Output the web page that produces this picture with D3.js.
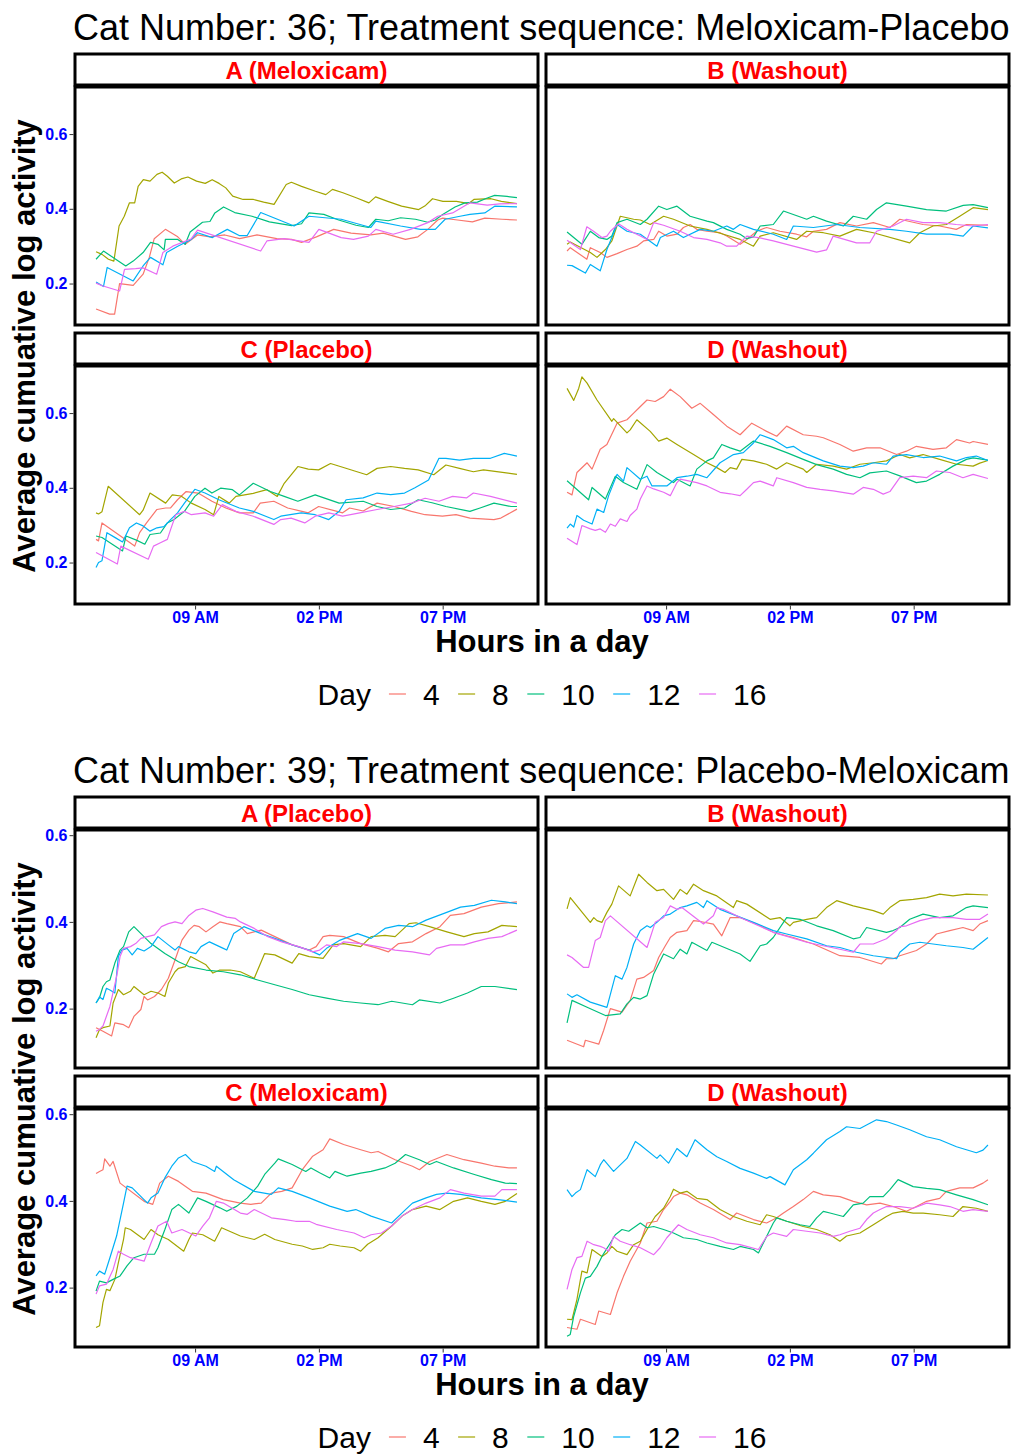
<!DOCTYPE html>
<html>
<head>
<meta charset="utf-8">
<script src="https://cdn.jsdelivr.net/npm/d3@7"></script>
<style>
  body { margin: 0; background: #fff; }
  svg { display: block; font-family: 'Liberation Sans', Arial, Helvetica, sans-serif; }
</style>
</head>
<body>
<svg id="chart" width="1013" height="1454"></svg>
<script>
// ---- categories / labels ----
const dayLevels = ['4', '8', '10', '12', '16'];
const dayColors = ['#F8766D', '#A3A500', '#00BF7D', '#00B0F6', '#E76BF3'];
const hourRange = [5, 22];
const tickHours = [9, 14, 19];
const tickLabels = ['09 AM', '02 PM', '07 PM'];
const yTickValues = [0.2, 0.4, 0.6];

const cat36Title = 'Cat Number: 36; Treatment sequence: Meloxicam-Placebo';
const cat36Panels = ['A (Meloxicam)', 'B (Washout)', 'C (Placebo)', 'D (Washout)'];
const cat39Title = 'Cat Number: 39; Treatment sequence: Placebo-Meloxicam';
const cat39Panels = ['A (Placebo)', 'B (Washout)', 'C (Meloxicam)', 'D (Washout)'];

// ---- series: [hour of day, average cumulative log activity] ----
// cat 36, period A
const c36A4 = [[5.0,0.132],[5.55,0.118],[5.75,0.118],[5.95,0.2],[6.5,0.195],[6.9,0.225],[7.15,0.27],[7.35,0.32],[7.8,0.345],[8.3,0.325],[8.6,0.305],[9.1,0.33],[9.6,0.325],[10.2,0.33],[10.8,0.32],[11.5,0.33],[12.3,0.32],[12.9,0.318],[13.3,0.31],[13.9,0.325],[14.6,0.345],[15.3,0.335],[16.1,0.33],[16.6,0.335],[17.5,0.318],[18.0,0.325],[18.4,0.345],[18.8,0.37],[19.0,0.375],[19.6,0.37],[20.2,0.365],[20.7,0.375],[21.4,0.372],[22.0,0.37]];
const c36A8 = [[5.0,0.285],[5.24,0.278],[5.5,0.265],[5.72,0.26],[5.93,0.354],[6.14,0.38],[6.35,0.416],[6.56,0.416],[6.7,0.46],[6.91,0.478],[7.18,0.474],[7.46,0.492],[7.67,0.498],[7.88,0.487],[8.16,0.469],[8.44,0.48],[8.71,0.485],[9.06,0.474],[9.41,0.468],[9.69,0.478],[9.97,0.468],[10.24,0.456],[10.52,0.434],[10.94,0.425],[11.36,0.425],[11.77,0.418],[12.19,0.412],[12.68,0.465],[12.89,0.471],[13.3,0.46],[13.86,0.447],[14.28,0.438],[14.55,0.452],[14.97,0.443],[15.53,0.429],[16.02,0.416],[16.29,0.432],[16.78,0.42],[17.34,0.407],[18.03,0.398],[18.31,0.409],[18.59,0.427],[19.01,0.42],[19.56,0.42],[20.05,0.414],[20.26,0.425],[20.95,0.427],[21.37,0.42],[22.0,0.414]];
const c36A10 = [[5.0,0.265],[5.3,0.287],[6.2,0.247],[6.5,0.26],[6.9,0.283],[7.2,0.31],[7.5,0.305],[7.75,0.29],[7.8,0.318],[8.3,0.318],[8.6,0.305],[8.8,0.338],[9.3,0.364],[9.6,0.366],[9.8,0.389],[10.15,0.405],[10.6,0.39],[11.3,0.38],[12.0,0.365],[12.9,0.355],[13.3,0.36],[13.6,0.389],[14.2,0.385],[14.8,0.37],[15.5,0.356],[16.0,0.35],[16.3,0.372],[16.8,0.368],[17.3,0.376],[17.9,0.372],[18.4,0.364],[18.7,0.37],[19.0,0.385],[19.5,0.405],[19.9,0.416],[20.4,0.418],[20.8,0.429],[21.1,0.436],[21.6,0.433],[22.0,0.43]];
const c36A12 = [[5.0,0.204],[5.3,0.192],[5.45,0.243],[6.5,0.207],[6.9,0.247],[7.2,0.27],[7.7,0.25],[7.85,0.283],[8.3,0.3],[8.85,0.318],[9.1,0.336],[9.7,0.323],[10.3,0.345],[10.8,0.328],[11.1,0.328],[11.65,0.39],[13.0,0.354],[13.6,0.38],[14.9,0.372],[16.1,0.35],[16.3,0.367],[17.3,0.354],[18.1,0.345],[18.7,0.345],[19.1,0.372],[19.7,0.38],[20.1,0.385],[20.7,0.389],[21.1,0.407],[22.0,0.405]];
const c36A16 = [[5.0,0.201],[5.25,0.194],[5.95,0.18],[6.15,0.238],[6.6,0.24],[6.9,0.242],[7.45,0.225],[7.7,0.283],[8.1,0.3],[8.85,0.32],[9.1,0.343],[11.65,0.287],[11.9,0.314],[12.6,0.32],[13.6,0.31],[14.0,0.345],[14.9,0.323],[15.4,0.318],[16.0,0.327],[16.3,0.345],[17.0,0.332],[17.7,0.345],[18.4,0.363],[18.8,0.38],[19.4,0.389],[20.1,0.416],[20.8,0.41],[21.3,0.413],[22.0,0.414]];
// cat 36, period B
const c36B4 = [[5.0,0.287],[5.13,0.296],[5.8,0.265],[5.94,0.296],[6.34,0.283],[6.61,0.27],[7.02,0.28],[7.42,0.291],[7.82,0.3],[8.09,0.314],[8.5,0.318],[8.7,0.34],[9.03,0.327],[9.44,0.332],[9.7,0.35],[9.97,0.358],[10.24,0.345],[10.65,0.34],[11.18,0.336],[11.45,0.327],[11.99,0.305],[12.26,0.318],[12.66,0.34],[13.06,0.35],[13.6,0.34],[14.27,0.332],[14.68,0.325],[14.95,0.34],[15.48,0.345],[16.02,0.363],[16.69,0.354],[17.37,0.363],[18.04,0.35],[18.44,0.372],[19.38,0.358],[20.05,0.354],[20.72,0.345],[21.13,0.358],[22.0,0.356]];
const c36B8 = [[5.0,0.305],[5.13,0.311],[5.94,0.283],[6.21,0.27],[6.55,0.291],[6.81,0.314],[7.15,0.38],[7.69,0.372],[7.96,0.37],[8.36,0.358],[8.9,0.38],[9.3,0.372],[9.97,0.354],[10.65,0.345],[11.32,0.332],[11.99,0.318],[12.53,0.3],[12.8,0.327],[13.33,0.336],[14.27,0.318],[14.68,0.34],[15.35,0.336],[16.02,0.327],[16.69,0.345],[17.37,0.336],[18.84,0.309],[19.25,0.336],[19.78,0.354],[20.32,0.358],[20.86,0.38],[21.4,0.403],[22.0,0.398]];
const c36B10 = [[5.0,0.338],[5.6,0.305],[5.94,0.34],[6.28,0.323],[6.61,0.318],[6.81,0.327],[7.02,0.363],[7.42,0.372],[7.96,0.358],[8.23,0.372],[8.7,0.407],[9.03,0.398],[9.44,0.407],[9.97,0.38],[10.65,0.367],[10.91,0.363],[11.45,0.345],[11.99,0.332],[12.26,0.32],[12.53,0.325],[12.8,0.354],[13.33,0.358],[13.74,0.394],[14.68,0.372],[14.95,0.38],[15.48,0.367],[16.16,0.354],[16.56,0.38],[17.1,0.372],[17.5,0.398],[17.9,0.416],[18.71,0.407],[19.52,0.398],[20.32,0.394],[21.0,0.409],[21.4,0.411],[22.0,0.403]];
const c36B12 = [[5.0,0.249],[5.2,0.248],[5.74,0.228],[5.94,0.251],[6.34,0.234],[6.61,0.291],[7.02,0.358],[7.42,0.34],[7.96,0.332],[8.63,0.3],[8.77,0.323],[9.3,0.34],[9.7,0.323],[10.38,0.345],[10.91,0.34],[11.45,0.354],[11.72,0.345],[11.99,0.358],[12.53,0.345],[13.33,0.332],[13.87,0.318],[14.14,0.354],[14.95,0.35],[15.89,0.358],[16.83,0.35],[18.04,0.345],[18.71,0.34],[19.52,0.332],[20.46,0.332],[21.0,0.327],[21.4,0.354],[22.0,0.349]];
const c36B16 = [[5.0,0.316],[5.54,0.291],[5.8,0.352],[6.07,0.34],[6.41,0.323],[6.61,0.327],[6.75,0.34],[7.08,0.36],[7.42,0.345],[7.96,0.327],[8.23,0.318],[8.5,0.363],[8.9,0.356],[9.57,0.34],[10.11,0.323],[10.65,0.318],[11.18,0.309],[11.45,0.3],[11.85,0.3],[12.26,0.327],[12.8,0.322],[13.33,0.314],[14.14,0.3],[15.08,0.284],[15.48,0.29],[15.75,0.327],[16.69,0.309],[17.23,0.309],[17.5,0.34],[18.17,0.354],[18.71,0.372],[19.38,0.363],[20.05,0.363],[20.72,0.358],[21.4,0.354],[22.0,0.358]];
// cat 36, period C
const c36C4 = [[5.0,0.262],[5.1,0.258],[5.24,0.306],[6.56,0.244],[6.76,0.28],[7.04,0.306],[7.46,0.342],[7.81,0.346],[8.01,0.346],[8.29,0.368],[8.64,0.39],[9.12,0.386],[9.68,0.364],[10.24,0.346],[10.79,0.333],[11.35,0.333],[11.63,0.359],[12.18,0.364],[12.74,0.346],[13.57,0.333],[13.99,0.35],[14.96,0.333],[15.24,0.346],[15.79,0.338],[16.35,0.359],[17.04,0.35],[17.74,0.337],[18.29,0.328],[18.99,0.324],[19.54,0.328],[20.1,0.319],[21.07,0.315],[21.35,0.319],[22.0,0.343]];
const c36C8 = [[5.0,0.333],[5.1,0.33],[5.24,0.336],[5.49,0.404],[6.76,0.328],[6.9,0.34],[7.18,0.386],[7.81,0.359],[8.08,0.381],[8.43,0.378],[8.85,0.359],[9.4,0.342],[9.75,0.328],[9.96,0.377],[10.38,0.359],[10.65,0.377],[11.35,0.385],[11.9,0.395],[12.32,0.377],[12.6,0.412],[13.15,0.457],[13.57,0.45],[13.99,0.448],[14.47,0.465],[14.96,0.455],[15.93,0.435],[16.35,0.452],[16.9,0.457],[17.46,0.452],[18.01,0.448],[18.64,0.435],[19.13,0.461],[19.68,0.452],[20.24,0.443],[20.65,0.448],[22.0,0.436]];
const c36C10 = [[5.0,0.271],[5.24,0.267],[6.07,0.231],[6.21,0.271],[6.63,0.26],[6.97,0.249],[7.18,0.275],[7.6,0.279],[7.88,0.306],[8.15,0.315],[8.57,0.337],[8.99,0.377],[9.4,0.399],[9.68,0.386],[10.03,0.399],[10.51,0.395],[10.79,0.381],[11.35,0.412],[12.04,0.39],[12.6,0.377],[13.15,0.364],[13.85,0.381],[14.82,0.359],[15.79,0.364],[16.35,0.35],[16.9,0.342],[17.46,0.346],[18.01,0.368],[18.57,0.36],[19.13,0.35],[20.1,0.337],[20.51,0.346],[21.07,0.359],[21.76,0.35],[22.0,0.35]];
const c36C12 = [[5.0,0.187],[5.1,0.2],[5.24,0.205],[5.44,0.28],[5.79,0.266],[6.07,0.255],[6.35,0.293],[6.63,0.306],[6.9,0.298],[7.18,0.284],[7.46,0.293],[7.74,0.296],[8.01,0.315],[8.29,0.333],[8.57,0.359],[8.99,0.396],[9.4,0.386],[9.96,0.368],[10.79,0.346],[11.35,0.337],[12.18,0.315],[12.46,0.324],[13.29,0.333],[13.85,0.328],[14.4,0.315],[14.82,0.337],[15.1,0.368],[15.79,0.373],[16.35,0.386],[16.9,0.382],[17.46,0.386],[17.88,0.4],[18.43,0.421],[18.85,0.479],[19.13,0.479],[19.68,0.474],[20.24,0.479],[20.93,0.479],[21.49,0.492],[22.0,0.485]];
const c36C16 = [[5.0,0.227],[5.86,0.196],[6.0,0.244],[7.11,0.209],[7.32,0.244],[7.6,0.253],[7.88,0.262],[8.01,0.288],[8.22,0.328],[8.57,0.337],[8.85,0.328],[9.4,0.333],[9.75,0.324],[10.1,0.355],[10.65,0.337],[11.35,0.324],[12.18,0.302],[12.46,0.315],[12.88,0.319],[13.43,0.306],[13.85,0.324],[14.4,0.333],[14.96,0.324],[15.65,0.333],[16.35,0.342],[17.04,0.35],[17.74,0.359],[18.29,0.372],[18.85,0.364],[19.4,0.377],[19.96,0.373],[20.24,0.386],[20.93,0.377],[22.0,0.359]];
// cat 36, period D
const c36D4 = [[5.0,0.388],[5.2,0.381],[5.4,0.441],[5.81,0.467],[6.01,0.45],[6.34,0.503],[6.61,0.516],[7.02,0.573],[7.42,0.582],[7.69,0.6],[7.89,0.613],[8.23,0.635],[8.56,0.631],[8.9,0.644],[9.17,0.664],[9.57,0.644],[10.04,0.613],[10.38,0.626],[10.91,0.596],[11.45,0.565],[11.99,0.542],[12.46,0.573],[13.06,0.551],[13.47,0.538],[13.87,0.565],[14.54,0.542],[15.08,0.538],[15.35,0.534],[16.02,0.516],[16.56,0.498],[17.1,0.507],[17.64,0.507],[18.31,0.489],[18.71,0.498],[19.11,0.511],[19.78,0.503],[20.32,0.507],[20.73,0.529],[21.26,0.52],[21.4,0.524],[22.0,0.516]];
const c36D8 = [[5.0,0.666],[5.27,0.634],[5.47,0.666],[5.6,0.697],[5.81,0.68],[6.21,0.635],[6.81,0.578],[6.88,0.585],[7.42,0.547],[7.55,0.555],[7.82,0.582],[8.36,0.551],[8.7,0.525],[9.03,0.533],[9.44,0.516],[10.11,0.489],[10.65,0.467],[11.05,0.454],[11.38,0.441],[11.59,0.454],[11.85,0.45],[12.06,0.476],[12.53,0.472],[13.06,0.463],[13.47,0.45],[13.87,0.467],[14.54,0.45],[14.68,0.441],[15.08,0.463],[15.75,0.458],[16.29,0.45],[16.83,0.463],[17.37,0.467],[17.9,0.472],[18.44,0.489],[18.84,0.48],[19.38,0.489],[20.05,0.476],[20.73,0.463],[21.4,0.458],[21.67,0.466],[22.0,0.473]];
const c36D10 = [[5.0,0.419],[5.87,0.368],[6.01,0.401],[6.55,0.37],[6.95,0.431],[7.28,0.414],[7.82,0.396],[8.23,0.462],[8.63,0.441],[9.3,0.414],[9.44,0.423],[9.97,0.405],[10.24,0.45],[10.65,0.472],[10.91,0.48],[11.25,0.516],[11.59,0.507],[11.99,0.498],[12.53,0.525],[13.2,0.511],[13.87,0.494],[14.54,0.476],[15.08,0.462],[15.75,0.45],[16.29,0.436],[16.83,0.427],[17.23,0.44],[17.9,0.445],[18.44,0.432],[19.11,0.414],[19.52,0.418],[20.05,0.436],[20.59,0.458],[21.13,0.476],[21.4,0.48],[22.0,0.474]];
const c36D12 = [[5.0,0.292],[5.13,0.303],[5.27,0.295],[5.4,0.326],[5.67,0.313],[6.01,0.303],[6.21,0.343],[6.48,0.334],[6.68,0.379],[7.02,0.436],[7.28,0.418],[7.42,0.454],[7.96,0.423],[8.23,0.431],[8.43,0.405],[9.03,0.405],[9.44,0.427],[9.84,0.431],[10.24,0.436],[10.65,0.427],[11.18,0.467],[11.72,0.489],[12.12,0.494],[12.53,0.52],[12.8,0.542],[13.33,0.529],[13.87,0.507],[14.14,0.511],[14.54,0.494],[15.35,0.472],[16.02,0.458],[16.56,0.454],[16.96,0.458],[17.37,0.467],[17.9,0.463],[18.17,0.485],[18.71,0.489],[19.38,0.481],[20.05,0.485],[20.73,0.472],[21.13,0.481],[21.53,0.485],[22.0,0.473]];
const c36D16 = [[5.0,0.265],[5.4,0.248],[5.6,0.299],[5.94,0.29],[6.14,0.286],[6.34,0.29],[6.55,0.281],[6.75,0.303],[6.95,0.297],[7.15,0.317],[7.42,0.31],[7.55,0.326],[7.82,0.343],[7.96,0.37],[8.23,0.405],[8.5,0.397],[8.9,0.388],[9.17,0.379],[9.44,0.414],[9.57,0.423],[10.24,0.414],[10.65,0.405],[11.18,0.388],[11.59,0.384],[11.99,0.379],[12.26,0.396],[12.53,0.414],[12.8,0.418],[13.33,0.405],[13.47,0.427],[14.14,0.414],[14.68,0.401],[15.22,0.396],[15.75,0.392],[16.56,0.383],[16.96,0.401],[17.37,0.396],[17.77,0.383],[18.04,0.39],[18.44,0.427],[18.98,0.431],[19.52,0.427],[19.92,0.445],[20.46,0.441],[20.99,0.427],[21.4,0.436],[22.0,0.425]];
// cat 39, period A
const c39A4 = [[5.0,0.156],[5.28,0.148],[5.63,0.137],[5.76,0.167],[6.11,0.163],[6.32,0.156],[6.53,0.182],[6.81,0.198],[6.94,0.228],[7.08,0.22],[7.36,0.228],[7.64,0.244],[7.92,0.27],[8.19,0.312],[8.47,0.358],[8.75,0.381],[8.96,0.392],[9.17,0.389],[9.44,0.377],[9.72,0.389],[10.0,0.4],[10.28,0.396],[10.83,0.389],[11.11,0.373],[11.67,0.381],[12.22,0.366],[12.92,0.347],[13.61,0.335],[13.89,0.343],[14.17,0.366],[14.44,0.369],[15.0,0.366],[15.69,0.35],[16.39,0.339],[16.81,0.331],[17.22,0.35],[17.78,0.354],[18.33,0.373],[18.89,0.389],[19.31,0.415],[19.86,0.419],[20.56,0.434],[21.25,0.442],[22.0,0.446]];
const c39A8 = [[5.0,0.133],[5.14,0.152],[5.28,0.156],[5.56,0.16],[5.69,0.213],[5.9,0.244],[6.11,0.232],[6.39,0.24],[6.53,0.251],[6.94,0.232],[7.22,0.24],[7.5,0.236],[7.78,0.228],[7.92,0.259],[8.19,0.285],[8.33,0.293],[8.61,0.297],[8.82,0.32],[9.44,0.301],[9.72,0.282],[10.0,0.289],[10.42,0.289],[10.83,0.285],[11.39,0.27],[11.81,0.327],[12.22,0.324],[12.92,0.305],[13.19,0.327],[13.61,0.32],[14.17,0.316],[14.58,0.347],[15.0,0.35],[15.69,0.343],[16.11,0.366],[16.67,0.369],[17.08,0.366],[17.64,0.396],[17.92,0.398],[18.47,0.389],[19.17,0.377],[19.86,0.366],[20.28,0.373],[20.83,0.377],[21.39,0.392],[22.0,0.389]];
const c39A10 = [[5.0,0.213],[5.14,0.225],[5.28,0.251],[5.42,0.262],[5.56,0.266],[5.76,0.305],[5.97,0.335],[6.11,0.343],[6.32,0.377],[6.53,0.389],[7.22,0.35],[7.78,0.327],[8.33,0.308],[8.75,0.297],[9.44,0.289],[10.14,0.285],[10.83,0.278],[11.53,0.266],[12.22,0.255],[12.92,0.244],[13.61,0.232],[14.31,0.224],[15.0,0.217],[15.69,0.213],[16.39,0.209],[16.94,0.217],[17.78,0.209],[18.06,0.22],[18.89,0.213],[19.44,0.224],[20.0,0.236],[20.56,0.251],[21.11,0.251],[22.0,0.244]];
const c39A12 = [[5.0,0.213],[5.14,0.227],[5.28,0.221],[5.42,0.247],[5.56,0.243],[5.76,0.236],[5.9,0.32],[6.04,0.335],[6.25,0.339],[6.46,0.324],[6.67,0.339],[6.94,0.333],[7.22,0.343],[7.5,0.366],[7.92,0.347],[8.19,0.335],[8.33,0.343],[8.75,0.331],[9.03,0.327],[9.24,0.343],[9.58,0.354],[10.14,0.339],[10.28,0.335],[10.56,0.373],[10.97,0.389],[11.67,0.373],[12.22,0.362],[12.92,0.347],[13.61,0.335],[14.03,0.324],[14.31,0.339],[14.86,0.358],[15.56,0.373],[16.11,0.362],[16.67,0.385],[17.22,0.392],[17.78,0.389],[18.33,0.404],[19.03,0.419],[19.72,0.434],[20.28,0.438],[20.97,0.45],[21.53,0.446],[22.0,0.442]];
const c39A16 = [[5.0,0.148],[5.14,0.152],[5.28,0.16],[5.56,0.205],[5.83,0.274],[5.97,0.32],[6.11,0.339],[6.39,0.343],[6.6,0.35],[6.81,0.362],[7.08,0.366],[7.36,0.37],[7.64,0.389],[7.92,0.396],[8.19,0.4],[8.47,0.396],[8.75,0.415],[9.03,0.427],[9.31,0.431],[9.72,0.423],[10.28,0.411],[10.63,0.408],[10.83,0.4],[11.39,0.385],[11.94,0.366],[12.5,0.354],[13.19,0.343],[13.75,0.331],[14.03,0.335],[14.31,0.347],[14.72,0.343],[15.0,0.354],[15.69,0.35],[16.39,0.343],[17.08,0.335],[17.78,0.331],[18.47,0.324],[18.75,0.339],[19.31,0.347],[19.86,0.347],[20.28,0.354],[20.83,0.362],[21.39,0.366],[22.0,0.381]];
// cat 39, period B
const c39B4 = [[5.0,0.127],[5.67,0.112],[5.74,0.127],[6.28,0.118],[6.48,0.15],[6.75,0.2],[7.22,0.192],[7.55,0.219],[7.82,0.268],[8.09,0.272],[8.5,0.288],[8.7,0.318],[8.97,0.345],[9.17,0.364],[9.44,0.376],[9.84,0.38],[10.11,0.403],[10.38,0.401],[10.91,0.395],[11.25,0.368],[11.59,0.41],[11.99,0.41],[12.66,0.395],[13.33,0.376],[14.14,0.364],[14.95,0.349],[16.02,0.322],[16.83,0.318],[17.7,0.303],[17.9,0.315],[18.17,0.315],[18.44,0.322],[19.11,0.334],[19.52,0.349],[19.92,0.372],[20.46,0.38],[20.99,0.387],[21.4,0.38],[21.67,0.395],[22.0,0.403]];
const c39B8 = [[5.0,0.43],[5.13,0.456],[5.94,0.399],[6.08,0.41],[6.21,0.403],[6.41,0.399],[6.61,0.422],[6.81,0.441],[7.08,0.483],[7.55,0.46],[7.89,0.51],[8.23,0.491],[8.63,0.472],[8.9,0.475],[9.3,0.452],[9.57,0.475],[9.84,0.464],[10.11,0.487],[10.51,0.472],[11.05,0.46],[11.72,0.433],[11.85,0.449],[12.26,0.441],[13.2,0.406],[13.6,0.41],[14.0,0.391],[14.14,0.399],[14.68,0.406],[15.08,0.41],[15.48,0.433],[15.89,0.449],[16.56,0.437],[17.37,0.426],[17.77,0.418],[18.04,0.433],[18.44,0.449],[18.98,0.452],[19.52,0.456],[20.05,0.464],[20.59,0.46],[21.13,0.464],[22.0,0.462]];
const c39B10 = [[5.0,0.167],[5.2,0.219],[5.81,0.203],[6.55,0.184],[7.15,0.188],[7.42,0.211],[7.69,0.226],[7.96,0.222],[8.23,0.23],[8.5,0.28],[8.9,0.326],[9.3,0.315],[9.57,0.337],[9.84,0.326],[10.04,0.353],[10.65,0.334],[10.85,0.353],[11.99,0.326],[12.39,0.309],[12.8,0.345],[13.06,0.349],[13.33,0.364],[13.87,0.41],[14.41,0.406],[15.08,0.391],[15.75,0.38],[16.56,0.361],[16.83,0.364],[17.1,0.387],[17.9,0.376],[18.17,0.38],[18.44,0.387],[18.84,0.406],[19.38,0.418],[20.05,0.41],[20.59,0.414],[21.13,0.433],[21.4,0.437],[22.0,0.433]];
const c39B12 = [[5.0,0.234],[5.2,0.226],[5.4,0.232],[5.94,0.215],[6.61,0.203],[6.95,0.276],[7.22,0.268],[7.42,0.295],[7.69,0.349],[7.96,0.38],[8.23,0.391],[8.36,0.387],[8.63,0.399],[8.9,0.414],[9.17,0.418],[9.57,0.433],[9.84,0.437],[10.24,0.445],[10.51,0.433],[10.65,0.449],[11.18,0.429],[11.85,0.414],[12.53,0.399],[13.33,0.38],[13.87,0.372],[14.68,0.361],[15.48,0.345],[16.02,0.341],[16.69,0.33],[17.37,0.322],[18.31,0.315],[18.44,0.33],[18.84,0.349],[19.25,0.353],[19.78,0.349],[20.32,0.345],[20.99,0.341],[21.4,0.337],[22.0,0.364]];
const c39B16 = [[5.0,0.324],[5.2,0.318],[5.67,0.295],[5.87,0.295],[6.14,0.357],[6.34,0.364],[6.55,0.403],[6.75,0.414],[8.23,0.341],[8.56,0.399],[8.9,0.41],[9.17,0.437],[9.44,0.429],[9.64,0.433],[10.51,0.395],[10.91,0.414],[11.05,0.433],[11.32,0.429],[11.99,0.41],[13.33,0.376],[14.68,0.353],[16.02,0.337],[16.56,0.33],[16.83,0.349],[17.37,0.349],[17.9,0.361],[18.31,0.38],[18.44,0.389],[18.71,0.391],[19.25,0.403],[19.78,0.41],[20.59,0.41],[21.13,0.406],[21.67,0.406],[22.0,0.418]];
// cat 39, period C
const c39C4 = [[5.0,0.463],[5.14,0.468],[5.28,0.472],[5.35,0.497],[5.56,0.48],[5.69,0.491],[5.97,0.441],[6.94,0.399],[7.29,0.392],[7.57,0.441],[7.92,0.457],[8.33,0.445],[8.89,0.422],[9.44,0.418],[10.14,0.403],[10.83,0.395],[11.25,0.392],[11.67,0.395],[12.08,0.418],[12.5,0.422],[12.92,0.43],[13.33,0.472],[13.75,0.503],[14.17,0.518],[14.44,0.543],[15.0,0.53],[15.69,0.518],[16.11,0.511],[16.39,0.514],[17.08,0.495],[17.78,0.48],[18.06,0.472],[18.47,0.491],[19.17,0.507],[19.86,0.495],[20.56,0.487],[21.11,0.48],[21.67,0.476],[22.0,0.476]];
const c39C8 = [[5.0,0.108],[5.14,0.112],[5.28,0.166],[5.42,0.196],[5.56,0.193],[5.76,0.219],[5.9,0.257],[6.11,0.311],[6.18,0.338],[6.39,0.334],[6.94,0.311],[7.22,0.334],[7.5,0.322],[7.92,0.311],[8.54,0.284],[8.75,0.311],[8.89,0.326],[9.31,0.322],[9.79,0.307],[10.07,0.338],[10.83,0.319],[11.39,0.311],[11.81,0.323],[12.22,0.311],[12.92,0.3],[13.33,0.296],[13.75,0.288],[14.17,0.292],[14.44,0.3],[14.86,0.296],[15.42,0.292],[15.69,0.284],[15.97,0.3],[16.39,0.315],[16.94,0.342],[17.36,0.365],[17.78,0.38],[18.33,0.388],[18.89,0.38],[19.44,0.399],[20.0,0.407],[20.56,0.399],[21.11,0.392],[21.53,0.399],[22.0,0.417]];
const c39C10 = [[5.0,0.192],[5.14,0.215],[5.42,0.211],[5.69,0.219],[5.97,0.227],[6.25,0.25],[6.53,0.269],[6.94,0.277],[7.36,0.277],[7.5,0.292],[7.78,0.334],[8.06,0.38],[8.33,0.392],[8.75,0.372],[9.1,0.407],[9.44,0.399],[10.0,0.384],[10.28,0.376],[10.69,0.388],[11.11,0.407],[11.53,0.434],[11.81,0.461],[12.22,0.487],[12.36,0.497],[12.92,0.484],[13.47,0.468],[13.68,0.476],[14.03,0.465],[14.44,0.453],[14.65,0.468],[15.14,0.457],[15.69,0.464],[16.11,0.468],[16.67,0.476],[17.08,0.487],[17.5,0.507],[18.06,0.495],[18.47,0.484],[18.75,0.491],[19.44,0.476],[20.28,0.461],[20.97,0.449],[21.53,0.441],[22.0,0.44]];
const c39C12 = [[5.0,0.227],[5.14,0.238],[5.35,0.231],[5.56,0.269],[5.83,0.319],[6.11,0.395],[6.25,0.434],[6.46,0.43],[7.08,0.395],[7.22,0.407],[7.5,0.418],[7.78,0.453],[8.06,0.48],[8.33,0.499],[8.61,0.507],[8.89,0.491],[9.44,0.48],[9.79,0.468],[9.86,0.48],[10.56,0.449],[11.39,0.422],[12.08,0.415],[12.36,0.43],[12.92,0.422],[13.61,0.407],[14.44,0.388],[15.14,0.376],[15.49,0.38],[16.11,0.365],[16.94,0.349],[17.5,0.38],[17.78,0.395],[18.33,0.407],[18.75,0.415],[19.17,0.418],[19.72,0.415],[20.56,0.407],[21.25,0.403],[22.0,0.397]];
const c39C16 = [[5.0,0.185],[5.14,0.204],[5.42,0.208],[5.69,0.242],[5.9,0.284],[6.11,0.277],[6.39,0.269],[6.67,0.265],[6.94,0.261],[7.22,0.303],[7.5,0.342],[7.85,0.353],[8.06,0.326],[8.47,0.334],[9.03,0.319],[9.31,0.342],[9.58,0.361],[9.86,0.399],[10.14,0.395],[10.83,0.372],[11.11,0.369],[11.39,0.38],[12.08,0.361],[12.64,0.357],[13.06,0.353],[13.61,0.353],[13.89,0.346],[14.72,0.334],[15.42,0.326],[15.83,0.315],[16.11,0.322],[16.53,0.326],[16.94,0.342],[17.36,0.365],[17.78,0.38],[18.33,0.395],[18.89,0.407],[19.31,0.426],[19.86,0.418],[20.56,0.411],[21.11,0.411],[21.39,0.426],[22.0,0.426]];
// cat 39, period D
const c39D4 = [[5.0,0.108],[5.4,0.104],[5.54,0.127],[6.14,0.115],[6.28,0.146],[6.75,0.138],[7.02,0.188],[7.28,0.226],[7.55,0.261],[7.96,0.303],[8.23,0.349],[8.63,0.353],[8.9,0.38],[9.17,0.399],[9.3,0.41],[9.57,0.418],[9.84,0.414],[10.38,0.395],[10.91,0.38],[11.59,0.357],[11.85,0.372],[12.53,0.357],[13.06,0.349],[13.47,0.361],[13.74,0.372],[14.14,0.387],[14.54,0.403],[14.95,0.422],[15.35,0.414],[16.02,0.41],[16.56,0.399],[17.1,0.391],[17.64,0.395],[18.17,0.387],[18.71,0.376],[19.11,0.387],[19.52,0.399],[20.05,0.406],[20.32,0.422],[20.86,0.43],[21.4,0.43],[21.8,0.441],[22.0,0.449]];
const c39D8 = [[5.0,0.127],[5.2,0.126],[5.4,0.173],[5.6,0.238],[5.81,0.234],[6.01,0.288],[6.41,0.272],[6.61,0.28],[6.81,0.295],[7.02,0.284],[7.42,0.276],[7.69,0.299],[7.96,0.307],[8.23,0.334],[8.56,0.364],[8.9,0.383],[9.17,0.41],[9.3,0.427],[9.57,0.418],[9.84,0.422],[10.24,0.406],[10.65,0.403],[11.18,0.38],[11.72,0.364],[12.26,0.353],[12.8,0.345],[13.06,0.368],[13.33,0.364],[13.87,0.353],[14.54,0.341],[15.08,0.334],[15.62,0.322],[16.02,0.307],[16.29,0.319],[16.83,0.326],[17.37,0.345],[17.9,0.364],[18.17,0.372],[18.57,0.376],[18.98,0.372],[19.38,0.372],[20.05,0.368],[20.59,0.364],[20.99,0.387],[21.53,0.383],[22.0,0.376]];
const c39D10 = [[5.0,0.088],[5.13,0.092],[5.27,0.134],[5.54,0.188],[5.74,0.222],[5.94,0.226],[6.21,0.249],[6.41,0.272],[6.75,0.303],[6.95,0.322],[7.22,0.334],[7.49,0.33],[7.96,0.349],[8.23,0.338],[8.5,0.341],[8.9,0.334],[9.3,0.326],[9.7,0.315],[10.24,0.311],[10.65,0.303],[11.18,0.295],[11.72,0.288],[11.99,0.295],[12.53,0.288],[12.73,0.28],[13.06,0.318],[13.33,0.349],[13.47,0.361],[13.87,0.353],[14.41,0.345],[14.81,0.341],[15.08,0.361],[15.35,0.376],[15.62,0.372],[16.16,0.364],[16.56,0.391],[16.96,0.395],[17.23,0.41],[17.77,0.41],[18.04,0.426],[18.37,0.449],[18.98,0.433],[19.52,0.429],[20.05,0.426],[20.73,0.414],[21.4,0.403],[22.0,0.391]];
const c39D12 = [[5.0,0.426],[5.2,0.41],[5.34,0.418],[5.54,0.426],[5.81,0.472],[6.14,0.456],[6.34,0.483],[6.48,0.495],[6.88,0.468],[7.15,0.483],[7.42,0.498],[7.76,0.537],[7.96,0.529],[8.63,0.498],[8.76,0.506],[9.1,0.487],[9.44,0.521],[9.84,0.502],[10.17,0.541],[10.65,0.518],[11.05,0.502],[11.45,0.491],[11.99,0.475],[12.53,0.464],[13.06,0.452],[13.2,0.456],[13.8,0.437],[14.14,0.472],[14.68,0.495],[14.95,0.51],[15.48,0.541],[16.02,0.56],[16.29,0.571],[16.83,0.567],[17.23,0.579],[17.5,0.587],[17.9,0.583],[18.31,0.575],[18.84,0.564],[19.52,0.548],[20.05,0.541],[20.73,0.525],[21.53,0.511],[21.8,0.517],[22.0,0.529]];
const c39D16 = [[5.0,0.196],[5.2,0.242],[5.4,0.269],[5.6,0.272],[5.81,0.307],[6.08,0.299],[6.34,0.295],[6.48,0.292],[6.68,0.284],[6.88,0.318],[7.15,0.307],[7.55,0.299],[7.96,0.292],[8.5,0.276],[8.76,0.292],[9.03,0.315],[9.5,0.345],[9.84,0.334],[10.38,0.322],[10.91,0.315],[11.45,0.303],[11.99,0.299],[12.73,0.288],[13.06,0.318],[13.33,0.326],[13.87,0.318],[14.14,0.334],[14.68,0.33],[15.22,0.326],[15.75,0.318],[16.02,0.322],[16.42,0.33],[16.83,0.337],[17.1,0.357],[17.37,0.372],[17.64,0.38],[17.9,0.387],[18.44,0.387],[18.98,0.383],[19.52,0.395],[20.05,0.391],[20.46,0.387],[20.99,0.376],[21.4,0.38],[22.0,0.376]];

const cat36Series = [
  [c36A4, c36A8, c36A10, c36A12, c36A16],
  [c36B4, c36B8, c36B10, c36B12, c36B16],
  [c36C4, c36C8, c36C10, c36C12, c36C16],
  [c36D4, c36D8, c36D10, c36D12, c36D16]
];
const cat39Series = [
  [c39A4, c39A8, c39A10, c39A12, c39A16],
  [c39B4, c39B8, c39B10, c39B12, c39B16],
  [c39C4, c39C8, c39C10, c39C12, c39C16],
  [c39D4, c39D8, c39D10, c39D12, c39D16]
];

// ---- layout ----
const svg = d3.select('#chart');
const colX = [75, 546],
      panelW = 463,
      stripY = [54, 333],
      stripH = 31,
      panelY = [87, 366],
      panelH = 238,
      midX = 542;

// ggplot-like 5% expansion
function expand(ext) {
    let pad = (ext[1] - ext[0]) * 0.05;
    return [ext[0] - pad, ext[1] + pad];
}

function drawFigure(oy, title, panelNames, series) {

    svg.append('text')
        .attr('x', 73)
        .attr('y', oy + 40)
        .style('font-size', '36px')
        .text(title);

    //points of every panel and day, y extent shared by the four panels
    let allValues = series.flat(2).map(d => d[1]);
    let x = d3.scaleLinear().domain(expand(hourRange)).range([0, panelW]);
    let y = d3.scaleLinear().domain(expand(d3.extent(allValues))).range([panelH, 0]);

    let line = d3.line()
        .x(d => x(d[0]))
        .y(d => y(d[1]));

    series.forEach((panelSeries, i) => {
        let row = Math.floor(i / 2), col = i % 2;

        //strip with the period name
        let strip = svg.append('g')
            .attr('transform', 'translate(' + colX[col] + ',' + (oy + stripY[row]) + ')');
        strip.append('rect')
            .attr('width', panelW)
            .attr('height', stripH)
            .attr('fill', 'white')
            .attr('stroke', 'black')
            .attr('stroke-width', 3);
        strip.append('text')
            .attr('x', panelW / 2)
            .attr('y', 25)
            .attr('text-anchor', 'middle')
            .attr('fill', '#ff0000')
            .style('font-size', '24px')
            .style('font-weight', 'bold')
            .text(panelNames[i]);

        let g = svg.append('g')
            .attr('transform', 'translate(' + colX[col] + ',' + (oy + panelY[row]) + ')');

        g.selectAll('.series')
            .data(panelSeries)
            .enter().append('path')
            .attr('class', 'series')
            .attr('d', line)
            .attr('fill', 'none')
            .attr('stroke', (d, k) => dayColors[k])
            .attr('stroke-width', 1.2)
            .attr('stroke-linejoin', 'round');

        g.append('rect')
            .attr('width', panelW)
            .attr('height', panelH)
            .attr('fill', 'none')
            .attr('stroke', 'black')
            .attr('stroke-width', 3);

        if (col == 0) {
            let ax = g.append('g')
                .attr('transform', 'translate(-1.5,0)')
                .call(d3.axisLeft(y).tickValues(yTickValues).tickSize(4).tickPadding(2).tickFormat(d3.format('.1f')));
            styleAxis(ax);
        }
        if (row == 1) {
            let ax = g.append('g')
                .attr('transform', 'translate(0,' + (panelH + 1.5) + ')')
                .call(d3.axisBottom(x).tickValues(tickHours).tickSize(4).tickPadding(2).tickFormat((d, k) => tickLabels[k]));
            styleAxis(ax);
        }
    });

    //axis titles
    svg.append('text')
        .attr('transform', 'translate(35,' + (oy + 346) + ') rotate(-90)')
        .attr('text-anchor', 'middle')
        .style('font-size', '31px')
        .style('font-weight', 'bold')
        .text('Average cumuative log activity');

    svg.append('text')
        .attr('x', midX)
        .attr('y', oy + 652)
        .attr('text-anchor', 'middle')
        .style('font-size', '31px')
        .style('font-weight', 'bold')
        .text('Hours in a day');

    drawLegend(oy);
}

function styleAxis(ax) {
    ax.select('.domain').remove();
    ax.selectAll('.tick line').attr('stroke', '#333');
    ax.selectAll('.tick text')
        .attr('fill', '#0000ff')
        .style('font-size', '16px')
        .style('font-weight', 'bold')
        .style('font-family', "'Liberation Sans', Arial, Helvetica, sans-serif");
}

function drawLegend(oy) {
    let legend = svg.append('g').style('font-size', '30px');
    let xPos = 0;

    let title = legend.append('text')
        .attr('x', 0)
        .attr('y', oy + 705)
        .text('Day');
    xPos = title.node().getComputedTextLength() + 18;

    dayLevels.forEach((day, i) => {
        legend.append('line')
            .attr('x1', xPos).attr('x2', xPos + 17)
            .attr('y1', oy + 694).attr('y2', oy + 694)
            .attr('stroke', dayColors[i])
            .attr('stroke-width', 1.2);
        xPos += 17 + 17;
        let t = legend.append('text')
            .attr('x', xPos)
            .attr('y', oy + 705)
            .text(day);
        xPos += t.node().getComputedTextLength() + 18.5;
    });

    let width = xPos - 18.5;
    legend.attr('transform', 'translate(' + (midX - width / 2) + ',0)');
}

drawFigure(0, cat36Title, cat36Panels, cat36Series);
drawFigure(743, cat39Title, cat39Panels, cat39Series);
</script>
</body>
</html>
